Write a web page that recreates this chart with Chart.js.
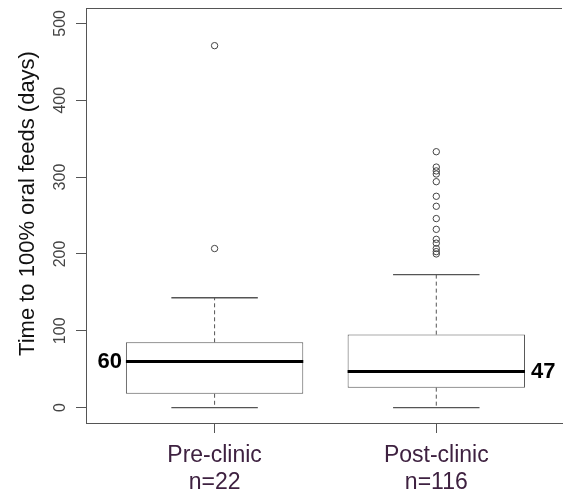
<!DOCTYPE html>
<html>
<head>
<meta charset="utf-8">
<script src="https://cdn.jsdelivr.net/npm/chart.js@4.4.1/dist/chart.umd.min.js"></script>
<style>
  html, body { margin: 0; padding: 0; background: #fff; }
  #wrap { width: 567px; height: 496px; }
</style>
</head>
<body>
<div id="wrap"><canvas id="boxChart" width="567" height="496"></canvas></div>
<script>
// ===== DATA =====
const categories = ['Pre-clinic', 'Post-clinic'];
const sampleSizes = [22, 116];
const whiskerLow = [0, 0];
const q1 = [18, 26];
const medians = [60, 47];
const q3 = [85, 95];
const whiskerHigh = [143, 173];
const outliersPre = [207, 471];
const outliersPost = [200, 203, 207, 214, 219, 232, 246, 262, 275, 294, 304, 308, 313, 333];
const yTicks = [0, 100, 200, 300, 400, 500];

// ===== STYLE =====
const FONT = '"Liberation Sans", Arial, sans-serif';
const INK = '#555';
const LABEL_COLOR = '#3e2140';
const BOX_W = 0.8;   // box width in x units (R boxwex)
const CAP_W = 0.39;  // staple width in x units

const pos = categories.map((c, i) => i + 1);

function segment(x0, y0, x1, y1, extra) {
  return Object.assign({
    type: 'line',
    data: [{ x: x0, y: y0 }, { x: x1, y: y1 }],
    borderColor: INK,
    borderWidth: 1,
    pointRadius: 0,
    fill: false,
    showLine: true,
    tension: 0,
    order: 1
  }, extra || {});
}

const datasets = [];

// boxes (floating bars q1..q3)
datasets.push({
  type: 'bar',
  data: pos.map((p, i) => ({ x: p, y: [q1[i], q3[i]] })),
  backgroundColor: '#fff',
  borderColor: INK,
  borderWidth: 1,
  borderSkipped: false,
  barPercentage: BOX_W,
  categoryPercentage: 1,
  order: 3
});

pos.forEach((p, i) => {
  // whiskers (dashed) and staples
  datasets.push(segment(p, q3[i], p, whiskerHigh[i], { borderDash: [4, 3] }));
  datasets.push(segment(p, q1[i], p, whiskerLow[i], { borderDash: [4, 3] }));
  datasets.push(segment(p - CAP_W / 2, whiskerHigh[i], p + CAP_W / 2, whiskerHigh[i], { borderWidth: 1.3 }));
  datasets.push(segment(p - CAP_W / 2, whiskerLow[i], p + CAP_W / 2, whiskerLow[i], { borderWidth: 1.3 }));
  // median
  datasets.push(segment(p - BOX_W / 2, medians[i], p + BOX_W / 2, medians[i], { borderColor: '#000', borderWidth: 3, order: 0 }));
});

// outliers
[outliersPre, outliersPost].forEach((list, i) => {
  datasets.push({
    type: 'scatter',
    data: list.map(v => ({ x: pos[i], y: v })),
    pointRadius: 3.2,
    pointStyle: 'circle',
    borderColor: '#444',
    borderWidth: 1,
    backgroundColor: 'rgba(255,255,255,0)',
    order: 0
  });
});

// ===== R-STYLE TEXT =====
const rText = {
  id: 'rText',
  afterDraw(chart) {
    const { ctx, chartArea, scales: { x, y } } = chart;
    ctx.save();

    // top frame line
    ctx.strokeStyle = INK;
    ctx.lineWidth = 1;
    ctx.beginPath();
    ctx.moveTo(chartArea.left, chartArea.top + 0.5);
    ctx.lineTo(chartArea.right, chartArea.top + 0.5);
    ctx.stroke();

    // y tick labels, parallel to the axis
    ctx.font = '16px ' + FONT;
    ctx.fillStyle = '#444';
    ctx.textAlign = 'center';
    ctx.textBaseline = 'middle';
    yTicks.forEach(v => {
      ctx.save();
      ctx.translate(61, y.getPixelForValue(v));
      ctx.rotate(-Math.PI / 2);
      ctx.fillText(String(v), 0, 0);
      ctx.restore();
    });

    // y axis title
    ctx.font = '22px ' + FONT;
    ctx.fillStyle = '#111';
    ctx.save();
    ctx.translate(28, (chartArea.top + chartArea.bottom) / 2 - 12);
    ctx.rotate(-Math.PI / 2);
    ctx.fillText('Time to 100% oral feeds (days)', 0, 0);
    ctx.restore();

    // median values beside the boxes
    ctx.font = 'bold 22px ' + FONT;
    ctx.fillStyle = '#000';
    ctx.textAlign = 'right';
    ctx.fillText(String(medians[0]), x.getPixelForValue(pos[0] - BOX_W / 2) - 4, y.getPixelForValue(medians[0]));
    ctx.textAlign = 'left';
    ctx.fillText(String(medians[1]), x.getPixelForValue(pos[1] + BOX_W / 2) + 6, y.getPixelForValue(medians[1]));

    ctx.restore();
  }
};

new Chart(document.getElementById('boxChart'), {
  type: 'scatter',
  data: { datasets },
  options: {
    responsive: false,
    animation: false,
    layout: { padding: { top: 8, left: 0, right: 0, bottom: 0 } },
    plugins: {
      legend: { display: false },
      tooltip: { enabled: false }
    },
    scales: {
      x: {
        type: 'linear',
        min: 0.42,
        max: 2.567,
        offset: false,
        afterBuildTicks: s => { s.ticks = pos.map(v => ({ value: v })); },
        afterFit: s => { s.height = 73; },
        ticks: {
          padding: 9,
          color: LABEL_COLOR,
          font: { family: FONT, size: 23, lineHeight: 1.18 },
          callback: v => {
            const i = pos.indexOf(v);
            return i < 0 ? '' : [categories[i], 'n=' + sampleSizes[i]];
          }
        },
        grid: { offset: false, drawOnChartArea: false, drawTicks: true, tickLength: 10, color: INK },
        border: { color: INK, width: 1 }
      },
      y: {
        type: 'linear',
        min: -20,
        max: 520,
        afterBuildTicks: s => { s.ticks = yTicks.map(v => ({ value: v })); },
        afterFit: s => { s.width = 86; },
        ticks: { display: false },
        grid: { drawOnChartArea: false, drawTicks: true, tickLength: 10, color: INK },
        border: { color: INK, width: 1 }
      }
    }
  },
  plugins: [rText]
});
</script>
</body>
</html>
